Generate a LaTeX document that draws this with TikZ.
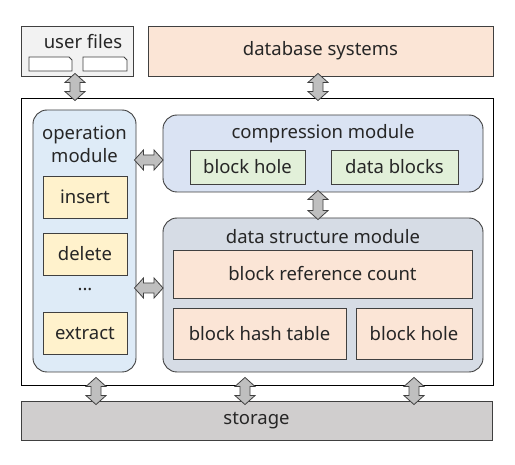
\documentclass[tikz,border=0pt]{standalone}
\usepackage{fontspec}
\setmainfont{Noto Sans}
\usetikzlibrary{calc}
\definecolor{edge}{HTML}{404040}
\definecolor{ufill}{HTML}{F2F2F2}
\definecolor{peach}{HTML}{FBE5D6}
\definecolor{opblue}{HTML}{DEEBF7}
\definecolor{cmblue}{HTML}{DAE3F3}
\definecolor{ltgreen}{HTML}{E2F0D9}
\definecolor{ltyellow}{HTML}{FFF2CC}
\definecolor{dsgray}{HTML}{D6DCE5}
\definecolor{stgray}{HTML}{D0CECE}
\definecolor{argray}{HTML}{BFBFBF}
\newcommand\lblfont{\fontsize{18.5}{21}\selectfont}
\tikzset{
  box/.style={draw=edge, line width=0.9pt, inner sep=0pt, font=\lblfont, text=black!85},
  rbox/.style={box, rounded corners=14pt},
  lbl/.style={font=\lblfont, text=black!85, inner sep=0pt},
  blk/.style={draw=edge, fill=argray, line width=0.8pt, line join=miter},
}
% vertical block arrow from A (top) to B (bottom), x taken from A; #3/#4 = overlap into A/B
\newcommand\varrow[4]{%
  \draw[blk] let \p1=($(#1)+(0,#3)$), \p2=($(#2)+(0,-#4)$) in
    (\x1,\y1) -- (\x1+10pt,\y1-9pt) -- (\x1+5pt,\y1-9pt) -- (\x1+5pt,\y2+9pt) -- (\x1+10pt,\y2+9pt)
    -- (\x1,\y2) -- (\x1-10pt,\y2+9pt) -- (\x1-5pt,\y2+9pt) -- (\x1-5pt,\y1-9pt) -- (\x1-10pt,\y1-9pt) -- cycle;}
% horizontal block arrow from A (left) to B (right), y taken from A
\newcommand\harrow[4]{%
  \draw[blk] let \p1=($(#1)+(-#3,0)$), \p2=($(#2)+(#4,0)$) in
    (\x1,\y1) -- (\x1+9pt,\y1+10pt) -- (\x1+9pt,\y1+5pt) -- (\x2-9pt,\y1+5pt) -- (\x2-9pt,\y1+10pt)
    -- (\x2,\y1) -- (\x2-9pt,\y1-10pt) -- (\x2-9pt,\y1-5pt) -- (\x1+9pt,\y1-5pt) -- (\x1+9pt,\y1-10pt) -- cycle;}
\begin{document}
\begin{tikzpicture}[x=1pt,y=-1pt]
\useasboundingbox (0,0) rectangle (515,465);
% top
\node[box, fill=ufill, minimum width=112pt, minimum height=50pt] (uf) at (77,51) {};
\node[lbl] (uft) at (83,42) {user files};
\draw[edge, fill=white, line width=0.9pt] (29,57) -- (69,57) -- (72,60) -- (72,71) -- (29,71) -- cycle;
\draw[edge, fill=white, line width=0.9pt] (83,57) -- (124,57) -- (127,60) -- (127,71) -- (83,71) -- cycle;
\node[box, fill=peach, minimum width=345pt, minimum height=50pt] (db) at (320.5,51) {database systems};
% main
\node[box, draw=black, fill=white, minimum width=472pt, minimum height=287pt] (main) at (257,241.5) {};
% operation module
\node[rbox, fill=opblue, minimum width=103pt, minimum height=262pt] (op) at (84.5,241) {};
\node[lbl, align=center] (opt) at (84.5,144) {operation\\[2pt]module};
\node[box, fill=ltyellow, minimum width=84pt, minimum height=42pt] (ins) at (85,197) {insert};
\node[box, fill=ltyellow, minimum width=84pt, minimum height=42pt] (del) at (85,254) {delete};
\node[lbl] (dots) at (85,290) {...};
\node[box, fill=ltyellow, minimum width=84pt, minimum height=42pt] (ext) at (85,333.5) {extract};
% compression module
\node[rbox, fill=cmblue, minimum width=320pt, minimum height=77pt] (cm) at (323,153.5) {};
\node[lbl] (cmt) at (323,134) {compression module};
\node[box, fill=ltgreen, minimum width=115pt, minimum height=34pt] (bh1) at (247.5,167) {block hole};
\node[box, fill=ltgreen, minimum width=127pt, minimum height=34pt] (dbk) at (394.5,167) {data blocks};
% data structure module
\node[rbox, fill=dsgray, minimum width=320pt, minimum height=154pt] (ds) at (323,295) {};
\node[lbl] (dst) at (323,237) {data structure module};
\node[box, fill=peach, minimum width=299pt, minimum height=48pt] (brc) at (322.5,274) {block reference count};
\node[box, fill=peach, minimum width=173pt, minimum height=51pt] (bht) at (259.5,333.5) {block hash table};
\node[box, fill=peach, minimum width=116pt, minimum height=51pt] (bh2) at (414,333.5) {block hole};
% storage
\node[box, fill=stgray, minimum width=471pt, minimum height=39pt] (st) at (256.5,420.5) {storage};
% arrows
\coordinate (xa) at (75,0);
\coordinate (xb) at (318,0);
\coordinate (yd) at (0,160);
\coordinate (ye) at (0,288);
\coordinate (s1) at (96,0);
\coordinate (s2) at (245,0);
\coordinate (s3) at (414,0);
\varrow{uf.south -| xa}{main.north}{3pt}{3pt}
\varrow{db.south -| xb}{main.north}{3pt}{3pt}
\varrow{cm.south -| xb}{ds.north}{2pt}{2pt}
\harrow{op.east |- yd}{cm.west}{2pt}{0.5pt}
\harrow{op.east |- ye}{ds.west}{2pt}{0.5pt}
\varrow{main.south -| s1}{st.north}{8pt}{4pt}
\varrow{main.south -| s2}{st.north}{8pt}{4pt}
\varrow{main.south -| s3}{st.north}{8pt}{4pt}
\end{tikzpicture}
\end{document}
